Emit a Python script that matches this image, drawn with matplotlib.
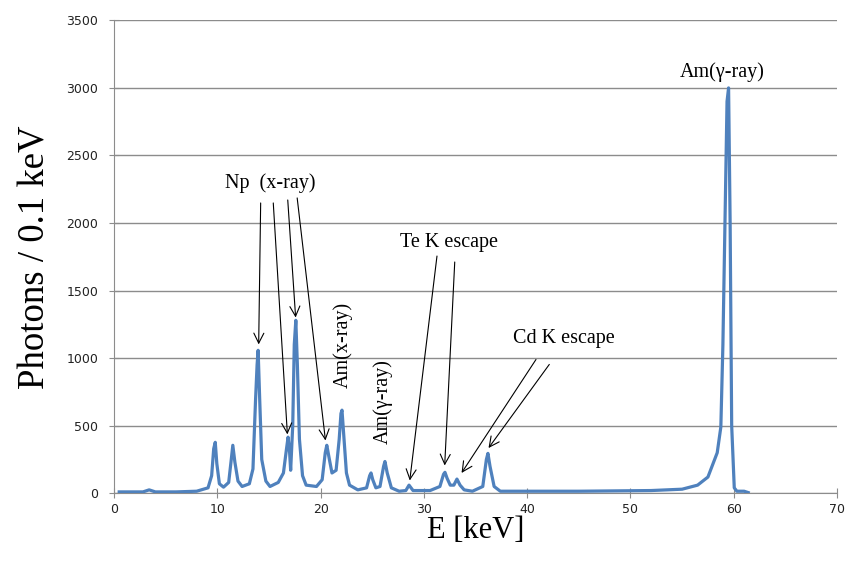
import matplotlib.pyplot as plt

# spectrum points (energy in keV, photons per 0.1 keV)
energy = [0.5, 2.8, 3.4, 4.0, 6.0, 8.0, 9.1, 9.45, 9.65, 9.8, 9.95, 10.2, 10.6, 11.1,
          11.35, 11.5, 11.7, 12.0, 12.4, 13.1, 13.45, 13.7, 13.85, 13.95, 14.1, 14.3,
          14.7, 15.1, 15.9, 16.4, 16.7, 16.85, 17.0, 17.1, 17.3, 17.45, 17.6, 17.75,
          17.95, 18.25, 18.6, 19.6, 20.15, 20.45, 20.6, 20.85, 21.1, 21.5, 21.8, 21.97,
          22.07, 22.25, 22.5, 22.8, 23.6, 24.45, 24.75, 24.88, 25.05, 25.35, 25.75, 26.1,
          26.23, 26.45, 26.85, 27.6, 28.25, 28.56, 28.95, 30.6, 31.55, 31.9, 32.04, 32.25,
          32.55, 32.9, 33.2, 33.5, 33.9, 34.7, 35.7, 36.05, 36.2, 36.4, 36.8, 37.4,
          45.0, 52.0, 55.0, 56.5, 57.5, 58.4, 58.75, 58.95, 59.15, 59.35, 59.5, 59.65,
          59.8, 60.05, 60.3, 61.0, 61.4]
counts = [10, 10, 25, 10, 10, 15, 40, 130, 330, 377, 220, 70, 45, 80,
          250, 355, 230, 90, 50, 70, 180, 690, 950, 1058, 700, 250,
          90, 50, 80, 150, 330, 415, 300, 170, 500, 1100, 1280, 950,
          400, 130, 60, 50, 100, 300, 355, 250, 150, 170, 400, 590,
          615, 420, 150, 60, 25, 40, 130, 150, 100, 40, 50, 200,
          235, 150, 40, 15, 20, 60, 20, 20, 50, 140, 155, 110,
          60, 60, 105, 60, 25, 15, 50, 250, 295, 200, 50, 15,
          15, 20, 30, 60, 120, 300, 490, 1100, 2000, 2900, 3000, 2000,
          500, 40, 15, 15, 5]

x_ticks = [0, 10, 20, 30, 40, 50, 60, 70]
y_ticks = [0, 500, 1000, 1500, 2000, 2500, 3000, 3500]

fig = plt.figure(figsize=(8.46, 5.65), dpi=100)
ax = fig.add_axes([0.1348, 0.127, 0.8546, 0.837])

ax.plot(energy, counts, color='#4F81BD', linewidth=2.3, zorder=3)

ax.set_xlim(0, 70)
ax.set_ylim(0, 3500)
ax.set_xticks(x_ticks)
ax.set_yticks(y_ticks)
ax.yaxis.grid(True, color='#8c8c8c', linewidth=1.0)
ax.set_axisbelow(True)
for s in ['top', 'right']:
    ax.spines[s].set_visible(False)
for s in ['left', 'bottom']:
    ax.spines[s].set_color('#8c8c8c')
ax.tick_params(axis='both', direction='inout', length=7, color='#8c8c8c',
               labelsize=9, labelcolor='#222222')
ax.tick_params(axis='y', pad=8)

serif = 'Liberation Serif'
ax.set_xlabel('E [keV]', fontsize=22, family=serif, labelpad=0)
ax.set_ylabel('Photons / 0.1 keV', fontsize=26.5, family=serif, labelpad=10)

arrow = dict(arrowstyle='->', color='black', lw=0.8, mutation_scale=18)
fs = 14.5

# Np (x-ray)
ax.text(15.1, 2295, 'Np  (x-ray)', fontsize=fs, family=serif, ha='center', va='center')
np_starts = [(14.2, 2169), (15.4, 2169), (16.8, 2191), (17.7, 2206)]
np_ends = [(14.0, 1081), (16.8, 415), (17.6, 1280), (20.5, 370)]
for s, e in zip(np_starts, np_ends):
    ax.annotate('', xy=e, xytext=s, arrowprops=arrow)

ax.text(22.2, 1095, 'Am(x-ray)', fontsize=fs, family=serif, rotation=90,
        ha='center', va='center')
ax.text(26.0, 680, 'Am(γ-ray)', fontsize=fs, family=serif, rotation=90,
        ha='center', va='center')

# Te K escape
ax.text(32.4, 1858, 'Te K escape', fontsize=fs, family=serif, ha='center', va='center')
for s, e in zip([(31.3, 1776), (33.0, 1732)], [(28.6, 74), (32.0, 185)]):
    ax.annotate('', xy=e, xytext=s, arrowprops=arrow)

# Cd K escape
ax.text(43.6, 1147, 'Cd K escape', fontsize=fs, family=serif, ha='center', va='center')
for s, e in zip([(41.0, 1007), (42.3, 970)], [(33.5, 133), (36.1, 318)]):
    ax.annotate('', xy=e, xytext=s, arrowprops=arrow)

ax.text(58.9, 3116, 'Am(γ-ray)', fontsize=fs, family=serif, ha='center', va='center')

plt.savefig('out.png', dpi=100)
plt.close()
